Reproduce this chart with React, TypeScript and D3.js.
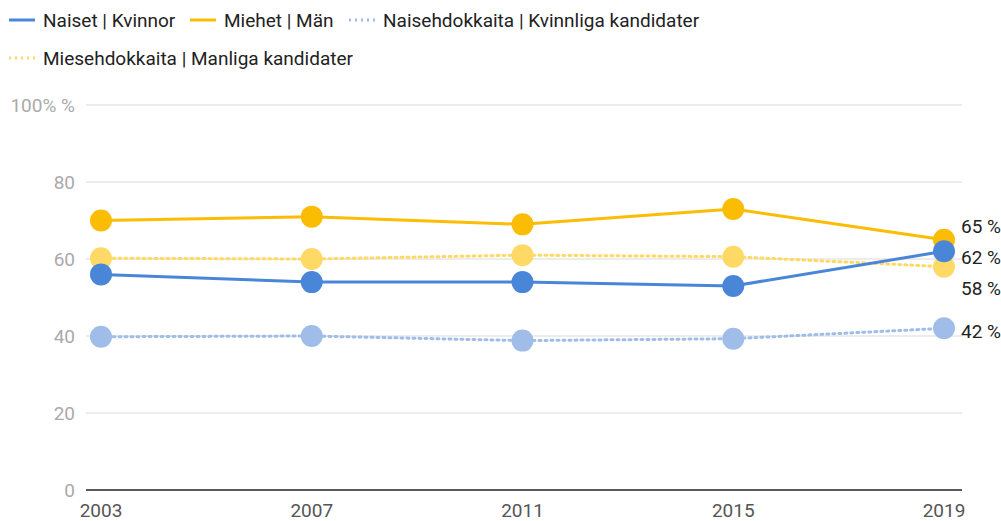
import React from "react";
import * as d3 from "d3";

const years = ["2003", "2007", "2011", "2015", "2019"];
const women = [56, 54, 54, 53, 62];
const men = [70, 71, 69, 73, 65];
const womenCand = [39.8, 40, 38.8, 39.3, 42];
const menCand = [60.2, 60, 61, 60.6, 58];
const yTicks = [0, 20, 40, 60, 80, 100];

const seriesList = [
  { name: "Naisehdokkaita | Kvinnliga kandidater", values: womenCand, color: "#9fbde8", dotted: true, label: "42 %", labelY: 331 },
  { name: "Miesehdokkaita | Manliga kandidater", values: menCand, color: "#ffd966", dotted: true, label: "58 %", labelY: 288 },
  { name: "Miehet | Män", values: men, color: "#fbbc04", dotted: false, label: "65 %", labelY: 226 },
  { name: "Naiset | Kvinnor", values: women, color: "#4a86d8", dotted: false, label: "62 %", labelY: 257 },
];

const legendItems = [
  { name: "Naiset | Kvinnor", color: "#4a86d8", dotted: false, x: 9, y: 20 },
  { name: "Miehet | Män", color: "#fbbc04", dotted: false, x: 190, y: 20 },
  { name: "Naisehdokkaita | Kvinnliga kandidater", color: "#9fbde8", dotted: true, x: 349, y: 20 },
  { name: "Miesehdokkaita | Manliga kandidater", color: "#ffd966", dotted: true, x: 9, y: 58 },
];

export default function App() {
  const W = 1001, H = 521;
  const x = d3.scalePoint<string>().domain(years).range([101, 944]);
  const y = d3.scaleLinear().domain([0, 100]).range([490, 105]);
  const line = d3.line<number>().x((_, i) => x(years[i])!).y((d) => y(d));
  const font = "Roboto, 'Noto Sans', sans-serif";
  const fs = 19;
  return (
    <svg width={W} height={H} style={{ position: "absolute", left: 0, top: 0 }} fontFamily={font}>
      <rect width={W} height={H} fill="#fff" />
      {legendItems.map((l) => (
        <g key={l.name}>
          <line x1={l.x} x2={l.x + 26} y1={l.y} y2={l.y} stroke={l.color} strokeWidth={3}
            strokeDasharray={l.dotted ? "2,4" : undefined} />
          <text x={l.x + 34} y={l.y + 7} fontSize={fs} fill="#222">{l.name}</text>
        </g>
      ))}
      {yTicks.map((t) => (
        <g key={t}>
          {t > 0 && <line x1={86} x2={962} y1={y(t)} y2={y(t)} stroke="#e6e6e6" strokeWidth={1.5} />}
          <text x={75} y={y(t) + 7} textAnchor="end" fontSize={fs} fill="#aaa">
            {t === 100 ? "100% %" : t}
          </text>
        </g>
      ))}
      <line x1={86} x2={962} y1={490} y2={490} stroke="#222" strokeWidth={1.5} />
      {years.map((yr) => (
        <text key={yr} x={x(yr)} y={517} textAnchor="middle" fontSize={fs} fill="#555">{yr}</text>
      ))}
      {seriesList.map((s) => (
        <g key={s.name}>
          <path d={line(s.values)!} fill="none" stroke={s.color} strokeWidth={3}
            strokeDasharray={s.dotted ? "2,4" : undefined} strokeLinecap={s.dotted ? "round" : "butt"} />
          {s.values.map((v, i) => (
            <circle key={i} cx={x(years[i])} cy={y(v)} r={11} fill={s.color} />
          ))}
          <text x={961} y={s.labelY + 7} fontSize={fs} fill="#222">{s.label}</text>
        </g>
      ))}
    </svg>
  );
}
